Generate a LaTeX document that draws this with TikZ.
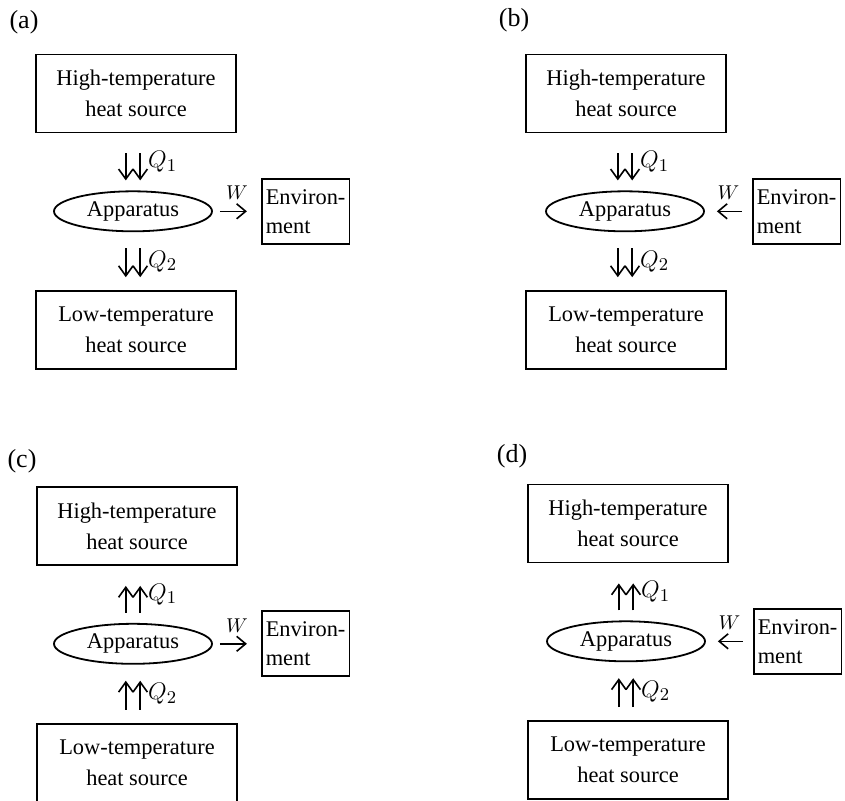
\documentclass[tikz,border=0pt]{standalone}
\usepackage{amsmath}
\usepackage{fontspec}
\setmainfont{Liberation Serif}
\usepackage{tikz}
\usetikzlibrary{shapes.geometric,arrows.meta,positioning}
\tikzset{
  srcbox/.style={rectangle,draw,line width=0.9pt,align=center,minimum width=100pt,
                 minimum height=39pt,inner sep=3pt,font=\fontsize{11.2}{15.5}\selectfont},
  appnode/.style={ellipse,draw,line width=0.9pt,minimum width=79pt,minimum height=20pt,
                  inner sep=1pt,font=\fontsize{11.2}{15.5}\selectfont},
  envbox/.style={rectangle,draw,line width=0.9pt,align=left,minimum width=43.5pt,
                 minimum height=32.5pt,inner sep=2pt,font=\fontsize{11.2}{14.5}\selectfont},
  heatflow/.style={-{Straight Barb[length=5pt,width=7.2pt,line width=0.8pt]},line width=0.8pt},
  workflow/.style={-{Straight Barb[length=4.5pt,width=7.5pt,line width=0.8pt]},line width=0.8pt},
  qlabel/.style={font=\fontsize{12.5}{15}\selectfont,inner sep=0pt},
  wlabel/.style={font=\fontsize{10}{12}\selectfont,inner sep=0pt},
  panel/.style={font=\fontsize{13}{15}\selectfont,inner sep=0pt},
}
\begin{document}
\begin{tikzpicture}[x=0.5pt,y=-0.5pt]
  \useasboundingbox (0,0) rectangle (845,800);
  % (a)
  \node[panel] (tagA) at (24,22) {(a)};
  \node[srcbox] (hotA) at (136,93.5) {High-temperature\\heat source};
  \node[appnode,below=28.5pt of hotA,xshift=-1.5pt] (appA) {Apparatus};
  \node[srcbox,below=29pt of appA,xshift=1.5pt] (coldA) {Low-temperature\\heat source};
  \node[envbox,right=24pt of appA] (envA) {Environ-\\ment};
  \draw[heatflow,shorten <=10pt,shorten >=5pt] ([xshift=-3.6pt]appA.north |- hotA.south) -- ([xshift=-3.6pt]appA.north);
  \draw[heatflow,shorten <=10pt,shorten >=5pt] ([xshift=3.6pt]appA.north |- hotA.south) -- node[qlabel,right=3.6pt] {$Q_1$} ([xshift=3.6pt]appA.north);
  \draw[heatflow,shorten <=8pt,shorten >=6.5pt] ([xshift=-3.6pt]appA.south) -- ([xshift=-3.6pt]appA.south |- coldA.north);
  \draw[heatflow,shorten <=8pt,shorten >=6.5pt] ([xshift=3.6pt]appA.south) -- node[qlabel,right=3.6pt] {$Q_2$} ([xshift=3.6pt]appA.south |- coldA.north);
  \draw[workflow,shorten <=3.5pt,shorten >=7pt] (appA) -- node[wlabel,above=5.5pt] {$W$} (envA);
  % (b)
  \node[panel] (tagB) at (514,20) {(b)};
  \node[srcbox] (hotB) at (626,93.5) {High-temperature\\heat source};
  \node[appnode,below=28.5pt of hotB,xshift=-0.5pt] (appB) {Apparatus};
  \node[srcbox,below=29pt of appB,xshift=0.5pt] (coldB) {Low-temperature\\heat source};
  \node[envbox,right=23.5pt of appB] (envB) {Environ-\\ment};
  \draw[heatflow,shorten <=10pt,shorten >=5pt] ([xshift=-3.6pt]appB.north |- hotB.south) -- ([xshift=-3.6pt]appB.north);
  \draw[heatflow,shorten <=10pt,shorten >=5pt] ([xshift=3.6pt]appB.north |- hotB.south) -- node[qlabel,right=3.6pt] {$Q_1$} ([xshift=3.6pt]appB.north);
  \draw[heatflow,shorten <=8pt,shorten >=6.5pt] ([xshift=-3.6pt]appB.south) -- ([xshift=-3.6pt]appB.south |- coldB.north);
  \draw[heatflow,shorten <=8pt,shorten >=6.5pt] ([xshift=3.6pt]appB.south) -- node[qlabel,right=3.6pt] {$Q_2$} ([xshift=3.6pt]appB.south |- coldB.north);
  \draw[workflow,shorten <=5pt,shorten >=6pt] (envB) -- node[wlabel,above=5.5pt] {$W$} (appB);
  % (c)
  \node[panel] (tagC) at (22,461) {(c)};
  \node[srcbox] (hotC) at (137,526) {High-temperature\\heat source};
  \node[appnode,below=28.5pt of hotC,xshift=-2pt] (appC) {Apparatus};
  \node[srcbox,below=29pt of appC,xshift=2pt] (coldC) {Low-temperature\\heat source};
  \node[envbox,right=24pt of appC] (envC) {Environ-\\ment};
  \draw[heatflow,shorten <=5pt,shorten >=10pt] ([xshift=-3.6pt]appC.north) -- ([xshift=-3.6pt]appC.north |- hotC.south);
  \draw[heatflow,shorten <=5pt,shorten >=10pt] ([xshift=3.6pt]appC.north) -- node[qlabel,right=3.6pt] {$Q_1$} ([xshift=3.6pt]appC.north |- hotC.south);
  \draw[heatflow,shorten <=6.5pt,shorten >=8pt] ([xshift=-3.6pt]appC.south |- coldC.north) -- ([xshift=-3.6pt]appC.south);
  \draw[heatflow,shorten <=6.5pt,shorten >=8pt] ([xshift=3.6pt]appC.south |- coldC.north) -- node[qlabel,right=3.6pt] {$Q_2$} ([xshift=3.6pt]appC.south);
  \draw[workflow,shorten <=3.5pt,shorten >=7pt] (appC) -- node[wlabel,above=5.5pt] {$W$} (envC);
  % (d)
  \node[panel] (tagD) at (512,456) {(d)};
  \node[srcbox] (hotD) at (628,523.5) {High-temperature\\heat source};
  \node[appnode,below=28.5pt of hotD,xshift=-1pt] (appD) {Apparatus};
  \node[srcbox,below=29pt of appD,xshift=1pt] (coldD) {Low-temperature\\heat source};
  \node[envbox,right=23.5pt of appD] (envD) {Environ-\\ment};
  \draw[heatflow,shorten <=5pt,shorten >=10pt] ([xshift=-3.6pt]appD.north) -- ([xshift=-3.6pt]appD.north |- hotD.south);
  \draw[heatflow,shorten <=5pt,shorten >=10pt] ([xshift=3.6pt]appD.north) -- node[qlabel,right=3.6pt] {$Q_1$} ([xshift=3.6pt]appD.north |- hotD.south);
  \draw[heatflow,shorten <=6.5pt,shorten >=8pt] ([xshift=-3.6pt]appD.south |- coldD.north) -- ([xshift=-3.6pt]appD.south);
  \draw[heatflow,shorten <=6.5pt,shorten >=8pt] ([xshift=3.6pt]appD.south |- coldD.north) -- node[qlabel,right=3.6pt] {$Q_2$} ([xshift=3.6pt]appD.south);
  \draw[workflow,shorten <=5pt,shorten >=6pt] (envD) -- node[wlabel,above=5.5pt] {$W$} (appD);
\end{tikzpicture}
\end{document}
